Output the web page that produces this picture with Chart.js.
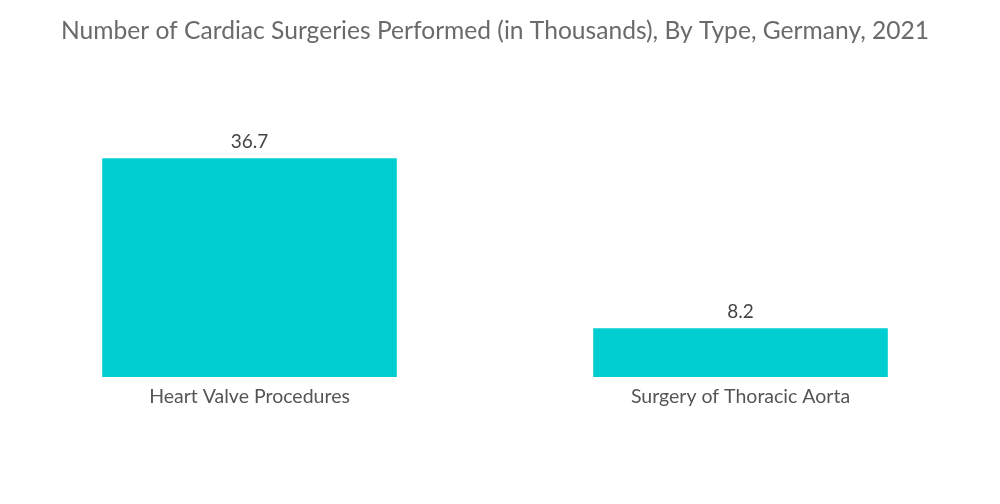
<!DOCTYPE html>
<html>
<head>
<meta charset="utf-8">
<script src="https://cdn.jsdelivr.net/npm/chart.js@4/dist/chart.umd.min.js"></script>
<style>
  html, body { margin: 0; padding: 0; background: #ffffff; }
  #wrap { width: 1000px; height: 504px; position: relative; }
</style>
</head>
<body>
<div id="wrap"><canvas id="c"></canvas></div>
<script>
const categories = ["Heart Valve Procedures", "Surgery of Thoracic Aorta"];
const values = [36.7, 8.2];
const titleText = "Number of Cardiac Surgeries Performed (in Thousands), By Type, Germany, 2021";

const valueLabels = {
  id: 'valueLabels',
  afterDatasetsDraw(chart) {
    const ctx = chart.ctx;
    const meta = chart.getDatasetMeta(0);
    ctx.save();
    ctx.font = '19px Lato, "Noto Sans", sans-serif';
    ctx.fillStyle = '#444444';
    ctx.textAlign = 'center';
    ctx.textBaseline = 'bottom';
    meta.data.forEach((bar, i) => {
      ctx.fillText(String(values[i]), bar.x, bar.y - 7);
    });
    ctx.restore();
  }
};

new Chart(document.getElementById('c'), {
  type: 'bar',
  data: {
    labels: categories,
    datasets: [{
      data: values,
      backgroundColor: '#00CED1',
      borderWidth: 0,
      categoryPercentage: 1.0,
      barPercentage: 0.6
    }]
  },
  options: {
    responsive: true,
    maintainAspectRatio: false,
    animation: false,
    layout: { padding: { left: 4, right: 14, top: 0, bottom: 87.6 } },
    plugins: {
      legend: { display: false },
      tooltip: { enabled: false },
      title: {
        display: true,
        text: titleText,
        color: '#6a6a6a',
        font: { family: 'Lato, "Noto Sans", sans-serif', size: 24.6, weight: 'normal' },
        padding: { top: 16.3, bottom: 33.2 }
      }
    },
    scales: {
      x: {
        grid: { display: false, drawTicks: false },
        border: { display: false },
        ticks: {
          color: '#555555',
          font: { family: 'Lato, "Noto Sans", sans-serif', size: 19.5 },
          padding: 8,
          maxRotation: 0
        }
      },
      y: {
        display: false,
        min: 0,
        max: 50
      }
    }
  },
  plugins: [valueLabels]
});
</script>
</body>
</html>
